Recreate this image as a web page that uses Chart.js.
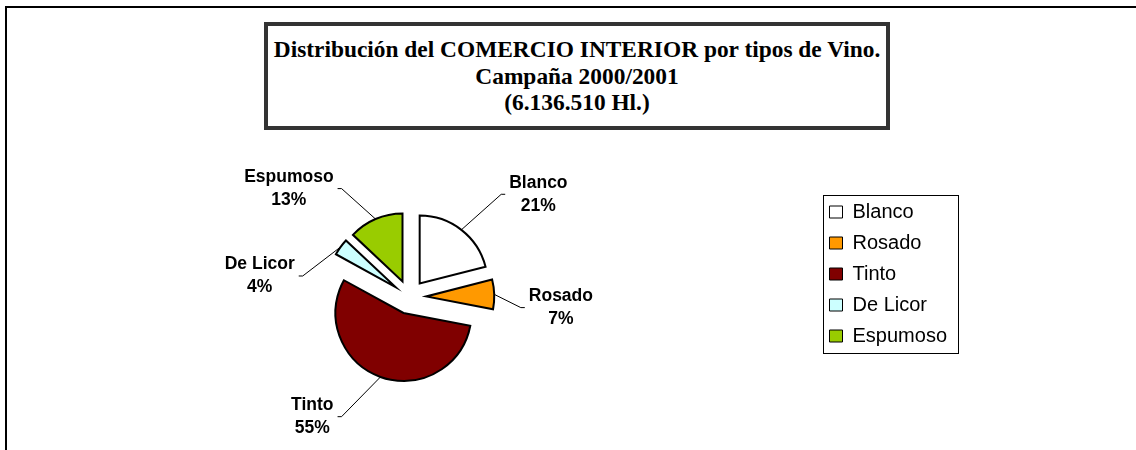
<!DOCTYPE html>
<html>
<head>
<meta charset="utf-8">
<script src="https://cdn.jsdelivr.net/npm/chart.js@4"></script>
<style>
  body { margin: 0; background: #fff; overflow: hidden; }
  #frame {
    position: absolute; left: 5px; top: 6px; right: 0; bottom: 0;
    border-left: 2px solid #000; border-top: 2px solid #000;
  }
  #title {
    position: absolute; left: 264px; top: 22px; width: 618px; height: 100px;
    border: 4px solid #333; background: #fff;
    display: flex; align-items: center; justify-content: center; text-align: center;
    font: bold 23.4px "Liberation Serif", "Times New Roman", serif; line-height: 26.5px; color: #000;
    white-space: nowrap;
  }
  #c { position: absolute; left: 0; top: 0; }
</style>
</head>
<body>
<div id="frame"></div>
<canvas id="c" width="1136" height="450"></canvas>
<div id="title">Distribución del COMERCIO INTERIOR por tipos de Vino.<br>Campaña 2000/2001<br>(6.136.510 Hl.)</div>
<script>
// data (percent of total volume)
const categories = ['Blanco', 'Rosado', 'Tinto', 'De Licor', 'Espumoso']
const shares = [21, 7, 55, 4, 13]

// styling
const sliceColors = ['#FFFFFF', '#FF9900', '#800000', '#CCFFFF', '#99CC00']
const explode = 17
// label placement: angle (deg, clockwise from top) and distance from pie centre
const labelAngles = [51.5, 94, 219, 278, 312]
const labelDists = [165, 152, 154, 151, 162]

const labelFont = 'bold 17.5px "Liberation Sans", Arial, sans-serif'

// move every slice out along its middle angle (plain translation, like Excel)
const explodePlugin = {
  id: 'explode',
  afterDatasetUpdate(chart, args) {
    args.meta.data.forEach((arc) => {
      const mid = (arc.startAngle + arc.endAngle) / 2
      arc.x += Math.cos(mid) * explode
      arc.y += Math.sin(mid) * explode
    })
  }
}

const sliceLabels = {
  id: 'sliceLabels',
  afterDatasetsDraw(chart) {
    const ctx = chart.ctx
    const area = chart.chartArea
    const cx = (area.left + area.right) / 2
    const cy = (area.top + area.bottom) / 2
    const meta = chart.getDatasetMeta(0)
    const total = shares.reduce((a, b) => a + b, 0)

    ctx.save()
    ctx.font = labelFont
    ctx.fillStyle = '#000'
    ctx.strokeStyle = '#000'
    ctx.lineWidth = 1
    ctx.textAlign = 'center'
    ctx.textBaseline = 'middle'

    meta.data.forEach((arc, i) => {
      const mid = (arc.startAngle + arc.endAngle) / 2
      const ex = arc.x + Math.cos(mid) * arc.outerRadius
      const ey = arc.y + Math.sin(mid) * arc.outerRadius

      const a = labelAngles[i] * Math.PI / 180
      const lx = cx + Math.sin(a) * labelDists[i]
      const ly = cy - Math.cos(a) * labelDists[i]

      const l1 = categories[i]
      const l2 = Math.round(shares[i] / total * 100) + '%'
      const w = Math.max(ctx.measureText(l1).width, ctx.measureText(l2).width)

      // leader: short horizontal stub next to the label, then straight to the slice edge
      const side = lx > cx ? -1 : 1
      const ax = lx + side * (w / 2 + 4)
      ctx.beginPath()
      ctx.moveTo(ax, ly)
      ctx.lineTo(ax + side * 4, ly)
      ctx.lineTo(ex, ey)
      ctx.stroke()

      ctx.fillText(l1, lx, ly - 11.5)
      ctx.fillText(l2, lx, ly + 11.5)
    })
    ctx.restore()
  }
}

const legendBorder = {
  id: 'legendBorder',
  afterDraw(chart) {
    const boxes = chart.legend.legendHitBoxes
    if (!boxes || !boxes.length) return
    const left = Math.min(...boxes.map(b => b.left))
    const top = Math.min(...boxes.map(b => b.top))
    const right = Math.max(...boxes.map(b => b.left + b.width))
    const bottom = Math.max(...boxes.map(b => b.top + b.height))
    const ctx = chart.ctx
    ctx.save()
    ctx.strokeStyle = '#000'
    ctx.lineWidth = 1
    ctx.strokeRect(Math.round(left - 7) + 0.5, Math.round(top - 7) + 0.5,
      Math.round(right - left + 18), Math.round(bottom - top + 14))
    ctx.restore()
  }
}

new Chart(document.getElementById('c'), {
  type: 'doughnut',
  data: {
    labels: categories,
    datasets: [{
      data: shares,
      backgroundColor: sliceColors,
      borderColor: '#000',
      borderWidth: 2,
      borderJoinStyle: 'miter'
    }]
  },
  options: {
    responsive: false,
    animation: false,
    events: [],
    cutout: 0,
    radius: 68,
    layout: {
      padding: { left: -10, right: 179, top: 191, bottom: 47 }
    },
    plugins: {
      title: { display: false },
      tooltip: { enabled: false },
      legend: {
        position: 'right',
        align: 'start',
        labels: {
          color: '#000',
          font: { family: '"Liberation Sans", Arial, sans-serif', size: 20 },
          boxWidth: 13,
          boxHeight: 12,
          padding: 11,
          generateLabels: (chart) => {
            const items = Chart.overrides.doughnut.plugins.legend.labels.generateLabels(chart)
            items.forEach(it => { it.lineWidth = 1 })
            return items
          }
        }
      }
    }
  },
  plugins: [explodePlugin, sliceLabels, legendBorder]
})
</script>
</body>
</html>
